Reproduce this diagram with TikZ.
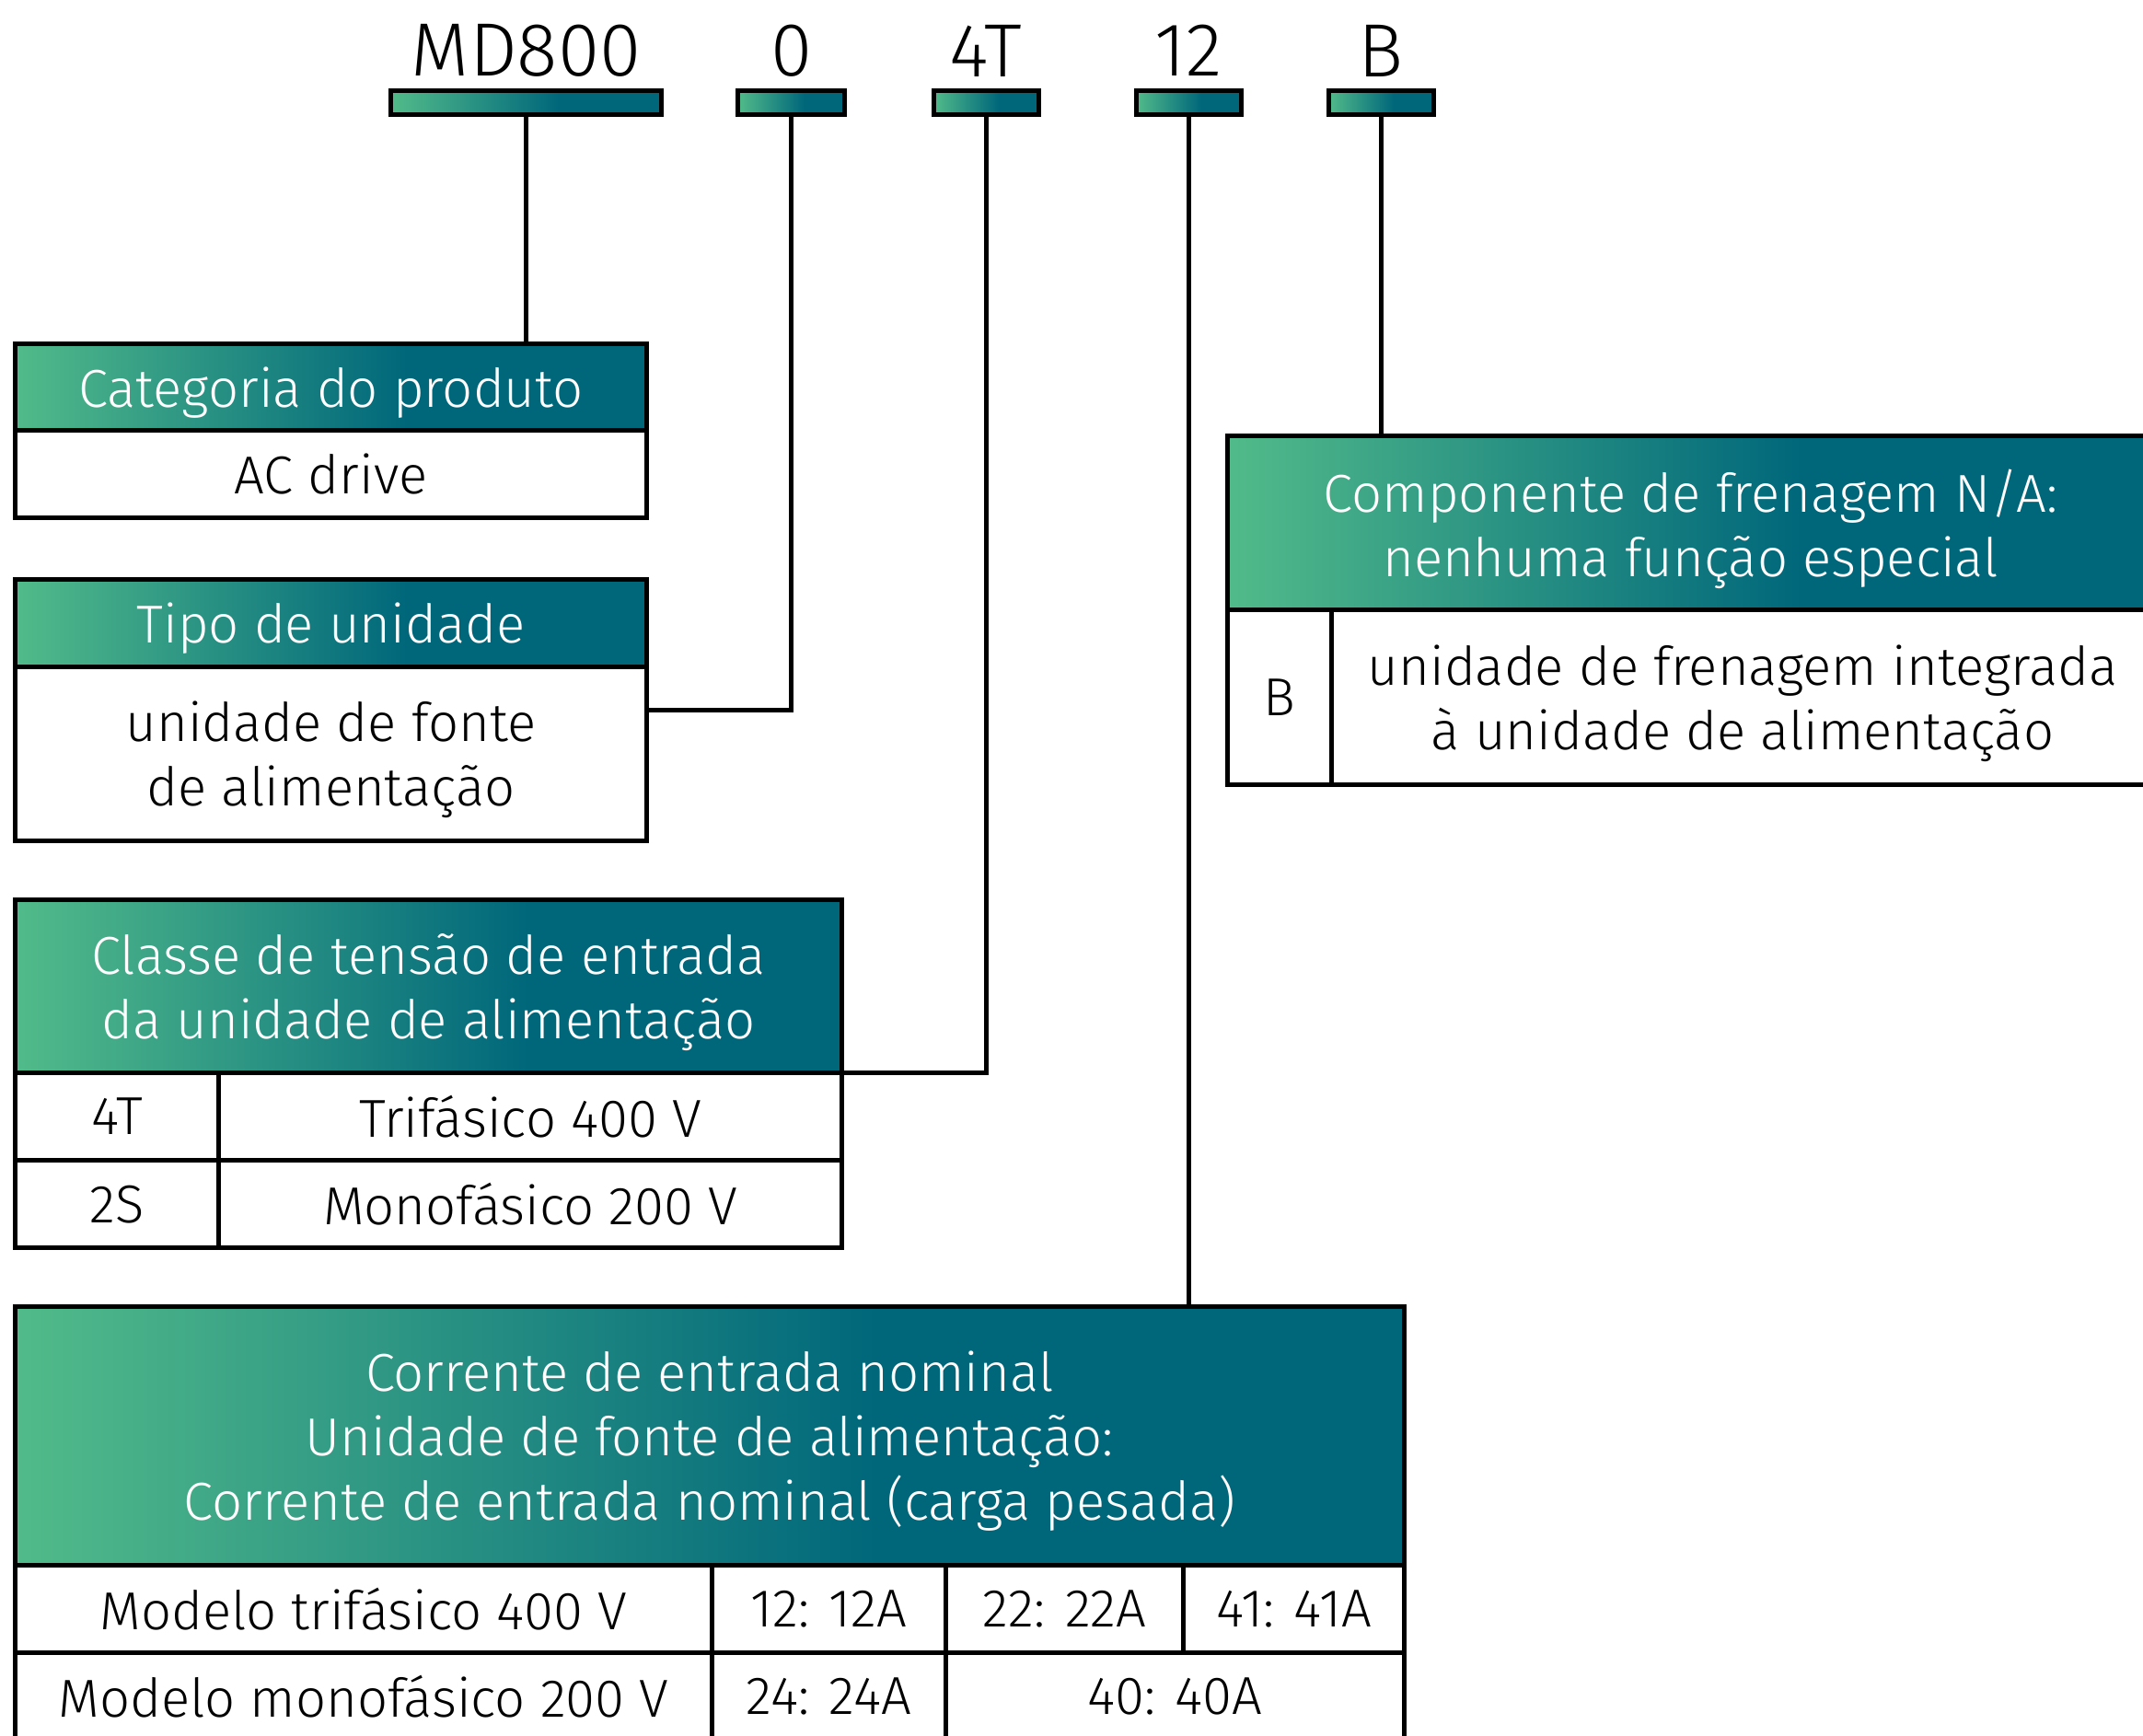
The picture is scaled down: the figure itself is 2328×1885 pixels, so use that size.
\documentclass[tikz,border=0pt]{standalone}
\usepackage{fontspec}
\setmainfont{Fira Sans Light}
\definecolor{hgreen}{HTML}{52BB8A}
\definecolor{hteal}{HTML}{00677B}
\pgfdeclarehorizontalshading{hdr}{100bp}{color(0bp)=(hgreen); color(25bp)=(hgreen); color(56bp)=(hteal); color(100bp)=(hteal)}
\tikzset{
  cell/.style={draw, line width=5pt, anchor=north west, outer sep=0pt, inner sep=0pt,
    align=center, text depth=0pt, font=\fontsize{58}{70}\selectfont},
  head/.style={cell, shading=hdr, text=white},
  bar/.style={draw, line width=5pt, shading=hdr, outer sep=0pt, inner sep=0pt, minimum height=26pt},
  code/.style={font=\fontsize{82}{86}\selectfont},
}
\begin{document}
\begin{tikzpicture}[x=1pt, y=-1pt]
  \useasboundingbox (0,0) rectangle (2328,1885);
  \node[code] (lmd) at (571.6,55) {MD800};
  \node[code] (lz) at (859.6,55) {0};
  \node[code] (lft) at (1071,55) {4T};
  \node[code] (ltw) at (1291,55) {12};
  \node[code] (lb) at (1500.3,55) {B};
  \node[bar, minimum width=294pt] (md) at (571.6,111.4) {};
  \node[bar, minimum width=116pt] (z) at (859.6,111.4) {};
  \node[bar, minimum width=114pt] (ft) at (1071,111.4) {};
  \node[bar, minimum width=114pt] (tw) at (1291,111.4) {};
  \node[bar, minimum width=114pt] (b) at (1500.3,111.4) {};

  \node[head, minimum width=686pt, minimum height=94.5pt] (cath) at (16.5,373) {Categoria do produto};
  \node[cell, minimum width=686pt, minimum height=95pt] (catb) at (16.5,467.5) {AC drive};

  \node[head, minimum width=686pt, minimum height=95pt] (tipoh) at (16.5,629.5) {Tipo de unidade};
  \node[cell, minimum width=686pt, minimum height=188.5pt] (tipob) at (16.5,724.5) {unidade de fonte\\de alimentação};
  \coordinate (tipoj) at ([yshift=-47pt]tipob.north east);

  \node[head, minimum width=898.1pt, minimum height=188.5pt] (clh) at (16.5,977) {Classe de tensão de entrada\\da unidade de alimentação};
  \node[cell, minimum width=221.1pt, minimum height=95pt] (cla) at (16.5,1165.5) {4T};
  \node[cell, minimum width=677pt, minimum height=95pt] (clb) at (237.6,1165.5) {Trifásico 400 V};
  \node[cell, minimum width=221.1pt, minimum height=95pt] (clc) at (16.5,1260.5) {2S};
  \node[cell, minimum width=677pt, minimum height=95pt] (cld) at (237.6,1260.5) {Monofásico 200 V};

  \node[head, minimum width=1508.5pt, minimum height=280.6pt] (corh) at (16.5,1419.4) {Corrente de entrada nominal\\Unidade de fonte de alimentação:\\Corrente de entrada nominal (carga pesada)};
  \node[cell, minimum width=757pt, minimum height=95pt] (cora) at (16.5,1700) {Modelo trifásico 400 V};
  \node[cell, minimum width=253.9pt, minimum height=95pt] (corb) at (773.5,1700) {12: 12A};
  \node[cell, minimum width=258.4pt, minimum height=95pt] (corc) at (1027.4,1700) {22: 22A};
  \node[cell, minimum width=239.2pt, minimum height=95pt] (cord) at (1285.8,1700) {41: 41A};
  \node[cell, minimum width=757pt, minimum height=95pt] (core) at (16.5,1795) {Modelo monofásico 200 V};
  \node[cell, minimum width=253.9pt, minimum height=95pt] (corf) at (773.5,1795) {24: 24A};
  \node[cell, minimum width=497.6pt, minimum height=95pt] (corg) at (1027.4,1795) {40: 40A};

  \node[head, minimum width=1007pt, minimum height=188.6pt] (comph) at (1333,473.6) {Componente de frenagem N/A:\\nenhuma função especial};
  \node[cell, minimum width=113pt, minimum height=190pt] (compa) at (1333,662.2) {B};
  \node[cell, minimum width=894pt, minimum height=190pt] (compb) at (1446,662.2) {unidade de frenagem integrada\\à unidade de alimentação};

  \begin{scope}[line width=5pt]
    \draw (md.south) -- (md.south |- cath.north);
    \draw (z.south) |- (tipoj);
    \draw (ft.south) |- (clh.south east);
    \draw (tw.south) -- (tw.south |- corh.north);
    \draw (b.south) -- (b.south |- comph.north);
  \end{scope}
\end{tikzpicture}
\end{document}
